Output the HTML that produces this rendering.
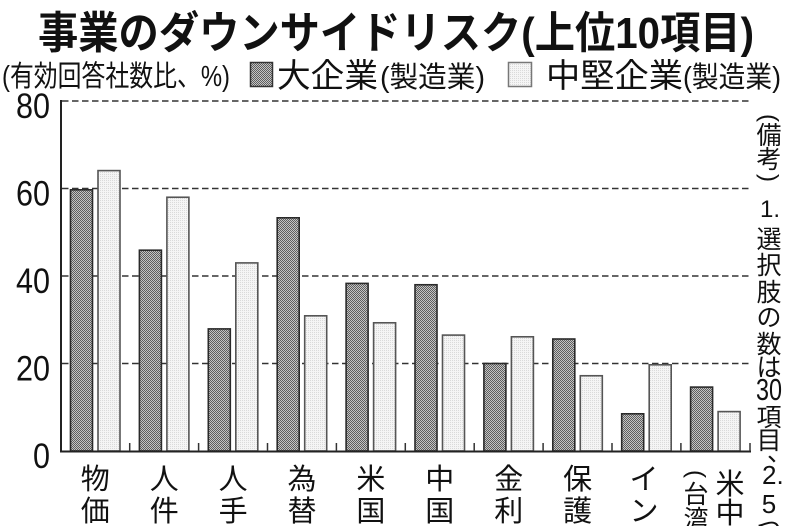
<!DOCTYPE html>
<html><head><meta charset="utf-8">
<style>
html,body{margin:0;padding:0;background:#fff;width:790px;height:526px;overflow:hidden;}
svg{display:block;}
.jp{font-family:"Liberation Sans","Noto Sans CJK JP",sans-serif;}
.num{font-family:"Liberation Sans",sans-serif;}
</style></head>
<body>
<svg width="790" height="526" viewBox="0 0 790 526" xmlns="http://www.w3.org/2000/svg" overflow="hidden">
<defs>
<pattern id="dk" width="2" height="2" patternUnits="userSpaceOnUse">
<rect width="2" height="2" fill="#c4c4c4"/><rect width="1" height="1" fill="#5e5e5e"/><rect x="1" y="1" width="1" height="1" fill="#5e5e5e"/>
</pattern>
<pattern id="lt" width="2" height="2" patternUnits="userSpaceOnUse">
<rect width="2" height="2" fill="#f5f5f5"/><rect width="1" height="1" fill="#dadada"/>
</pattern>
<clipPath id="frame"><rect width="790" height="526"/></clipPath>
</defs>
<rect width="790" height="526" fill="#fff"/>
<g clip-path="url(#frame)">

<!-- title -->
<text class="jp" x="38" y="48" font-size="44" font-weight="bold" fill="#111" textLength="716" lengthAdjust="spacingAndGlyphs">事業のダウンサイドリスク(上位10項目)</text>

<!-- subtitle / legend -->
<text class="jp" x="2" y="86" font-size="29" fill="#111" textLength="228" lengthAdjust="spacingAndGlyphs">(有効回答社数比、%)</text>
<rect x="250.5" y="62.5" width="22" height="24" fill="url(#dk)" stroke="#333" stroke-width="1.5"/>
<text class="jp" x="277" y="87" font-size="33" fill="#111" textLength="101" lengthAdjust="spacingAndGlyphs">大企業</text>
<text class="jp" x="380" y="87" font-size="29" fill="#111" textLength="105" lengthAdjust="spacingAndGlyphs">(製造業)</text>
<rect x="508.5" y="62.5" width="23" height="24" fill="url(#lt)" stroke="#777" stroke-width="1.5"/>
<text class="jp" x="546" y="87" font-size="33" fill="#111" textLength="137" lengthAdjust="spacingAndGlyphs">中堅企業</text>
<text class="jp" x="683" y="87" font-size="29" fill="#111" textLength="98" lengthAdjust="spacingAndGlyphs">(製造業)</text>

<!-- gridlines -->
<g stroke="#333" stroke-width="1.5" stroke-dasharray="6.5 3.5">
<line x1="62" y1="101" x2="750" y2="101"/>
<line x1="62" y1="188.5" x2="750" y2="188.5"/>
<line x1="62" y1="276" x2="750" y2="276"/>
<line x1="62" y1="363.5" x2="750" y2="363.5"/>
</g>

<!-- y labels -->
<g class="num" font-size="35" fill="#111">
<text x="16" y="118" textLength="34" lengthAdjust="spacingAndGlyphs">80</text>
<text x="16" y="205.5" textLength="34" lengthAdjust="spacingAndGlyphs">60</text>
<text x="16" y="293" textLength="34" lengthAdjust="spacingAndGlyphs">40</text>
<text x="16" y="380.5" textLength="34" lengthAdjust="spacingAndGlyphs">20</text>
<text x="33" y="468" textLength="17" lengthAdjust="spacingAndGlyphs">0</text>
</g>

<!-- bars -->
<g stroke-width="1.6">
<rect x="70.5" y="189.8" width="22" height="261.2" fill="url(#dk)" stroke="#2a2a2a"/>
<rect x="98" y="170.6" width="22" height="280.4" fill="url(#lt)" stroke="#555"/>
<rect x="139.4" y="250.2" width="22" height="200.8" fill="url(#dk)" stroke="#2a2a2a"/>
<rect x="166.9" y="197.25" width="22" height="253.75" fill="url(#lt)" stroke="#555"/>
<rect x="208.3" y="328.9" width="22" height="122.1" fill="url(#dk)" stroke="#2a2a2a"/>
<rect x="235.8" y="262.9" width="22" height="188.1" fill="url(#lt)" stroke="#555"/>
<rect x="277.2" y="217.8" width="22" height="233.2" fill="url(#dk)" stroke="#2a2a2a"/>
<rect x="304.7" y="315.8" width="22" height="135.2" fill="url(#lt)" stroke="#555"/>
<rect x="346.1" y="283.4" width="22" height="167.6" fill="url(#dk)" stroke="#2a2a2a"/>
<rect x="373.6" y="322.8" width="22" height="128.2" fill="url(#lt)" stroke="#555"/>
<rect x="415" y="284.75" width="22" height="166.25" fill="url(#dk)" stroke="#2a2a2a"/>
<rect x="442.5" y="335.1" width="22" height="115.9" fill="url(#lt)" stroke="#555"/>
<rect x="483.9" y="363.5" width="22" height="87.5" fill="url(#dk)" stroke="#2a2a2a"/>
<rect x="511.4" y="336.8" width="22" height="114.2" fill="url(#lt)" stroke="#555"/>
<rect x="552.8" y="339" width="22" height="112" fill="url(#dk)" stroke="#2a2a2a"/>
<rect x="580.3" y="375.75" width="22" height="75.25" fill="url(#lt)" stroke="#555"/>
<rect x="621.7" y="413.8" width="22" height="37.2" fill="url(#dk)" stroke="#2a2a2a"/>
<rect x="649.2" y="364.8" width="22" height="86.2" fill="url(#lt)" stroke="#555"/>
<rect x="690.6" y="387.1" width="22" height="63.9" fill="url(#dk)" stroke="#2a2a2a"/>
<rect x="718.1" y="411.6" width="22" height="39.4" fill="url(#lt)" stroke="#555"/>
</g>

<!-- axes -->
<g stroke="#222" stroke-width="2">
<line x1="61" y1="100" x2="61" y2="452"/>
<line x1="60" y1="451.5" x2="751" y2="451.5"/>
</g>
<g stroke="#333" stroke-width="1.5">
<line x1="129.7" y1="443" x2="129.7" y2="451"/>
<line x1="198.6" y1="443" x2="198.6" y2="451"/>
<line x1="267.5" y1="443" x2="267.5" y2="451"/>
<line x1="336.4" y1="443" x2="336.4" y2="451"/>
<line x1="405.3" y1="443" x2="405.3" y2="451"/>
<line x1="474.2" y1="443" x2="474.2" y2="451"/>
<line x1="543.1" y1="443" x2="543.1" y2="451"/>
<line x1="612" y1="443" x2="612" y2="451"/>
<line x1="680.9" y1="443" x2="680.9" y2="451"/>
<line x1="750" y1="443" x2="750" y2="451"/>
</g>

<!-- x labels (vertical) -->
<g class="jp" font-size="29" fill="#111" text-anchor="middle">
<text x="95.3" y="489">物</text><text x="95.3" y="521">価</text><text x="95.3" y="553">高</text>
<text x="164.2" y="489">人</text><text x="164.2" y="521">件</text><text x="164.2" y="553">費</text>
<text x="233.1" y="489">人</text><text x="233.1" y="521">手</text><text x="233.1" y="553">不</text>
<text x="302" y="489">為</text><text x="302" y="521">替</text><text x="302" y="553">変</text>
<text x="370.9" y="489">米</text><text x="370.9" y="521">国</text><text x="370.9" y="553">経</text>
<text x="439.8" y="489">中</text><text x="439.8" y="521">国</text><text x="439.8" y="553">経</text>
<text x="508.7" y="489">金</text><text x="508.7" y="521">利</text><text x="508.7" y="553">上</text>
<text x="577.6" y="489">保</text><text x="577.6" y="521">護</text><text x="577.6" y="553">主</text>
<text x="644" y="489">イ</text><text x="644" y="521">ン</text><text x="644" y="553">フ</text>
<text x="730" y="494">米</text><text x="730" y="523">中</text><text x="730" y="553">対</text>
</g>
<g class="jp" font-size="25" fill="#111" text-anchor="middle">
<text x="696" y="503">台</text><text x="696" y="528">湾</text>
</g>
<text class="num" font-size="24" fill="#111" text-anchor="middle" transform="translate(696,474) rotate(90)" dominant-baseline="central">(</text>

<!-- right note (vertical) -->
<g class="num" font-size="24" fill="#111" text-anchor="middle" dominant-baseline="central">
<text transform="translate(769,118) rotate(90)">(</text>
<text transform="translate(769,178) rotate(90)">)</text>
</g>
<g class="jp" font-size="25" fill="#111" text-anchor="middle">
<text x="769" y="144">備</text><text x="769" y="168">考</text>
<text x="769" y="248">選</text><text x="769" y="274">択</text><text x="769" y="301">肢</text>
<text x="769" y="326">の</text><text x="769" y="353">数</text><text x="769" y="376">は</text>
<text x="769" y="426">項</text><text x="769" y="449">目</text>
<text x="769" y="538">つ</text>
</g>
<text class="jp" x="767" y="461" font-size="25" fill="#111">、</text>
<g class="num" fill="#111">
<text x="760" y="217" font-size="24">1.</text>
<text x="756" y="400" font-size="31" textLength="26" lengthAdjust="spacingAndGlyphs">30</text>
<text x="762" y="484" font-size="26">2.</text>
<text x="769" y="513" font-size="26" text-anchor="middle">5</text>
</g>
</g>
</svg>
</body></html>
